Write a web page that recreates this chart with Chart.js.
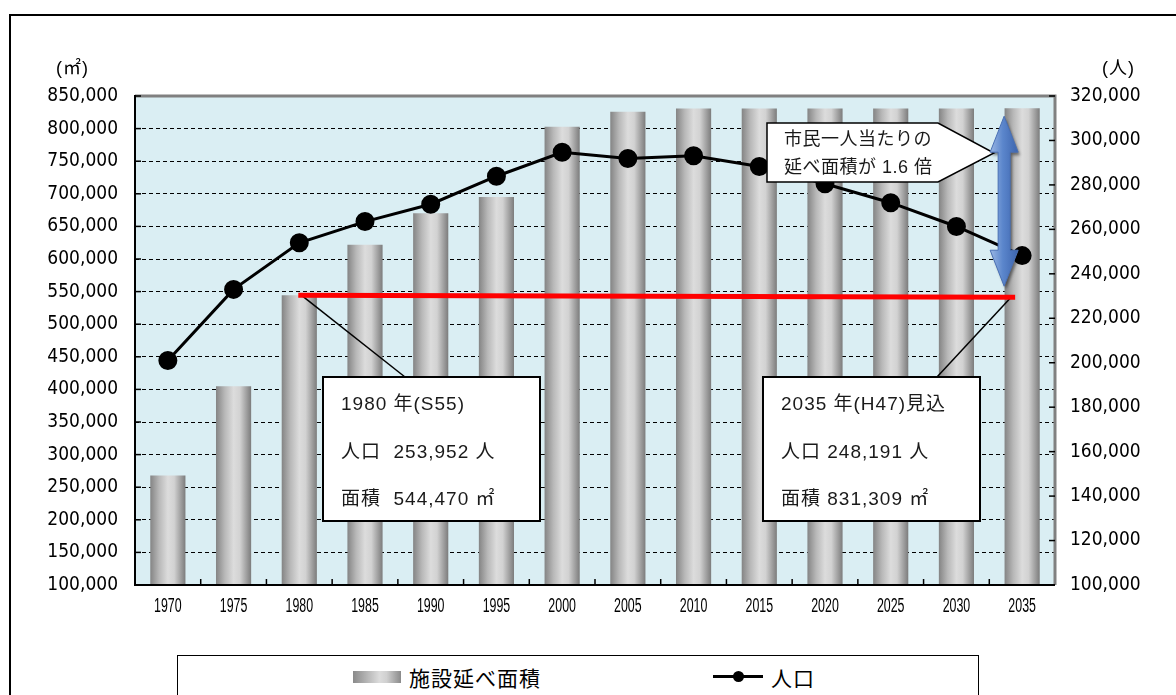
<!DOCTYPE html>
<html><head><meta charset="utf-8">
<script src="https://cdn.jsdelivr.net/npm/chart.js@4"></script>
<style>
html,body{margin:0;padding:0;background:#fff;}
#wrap{position:relative;width:1176px;height:695px;overflow:hidden;background:#fff;}
#frame{position:absolute;left:9px;top:14px;width:1300px;height:800px;border-left:2px solid #000;border-top:2px solid #000;}
#c{position:absolute;left:0;top:0;}
.ttl{position:absolute;font-family:'Liberation Sans','Noto Sans CJK JP';font-size:18px;color:#000;line-height:22px;letter-spacing:1px;}
#legend{position:absolute;left:177px;top:655px;width:800px;height:60px;border:1px solid #000;background:#fff;font-family:'Noto Sans CJK JP';font-size:21px;color:#000;}
#legend span{position:absolute;line-height:26px;top:8px;}
#sw{position:absolute;left:175px;top:15px;width:48px;height:12px;background:linear-gradient(to right,#8a8a8a,#dcdcdc 55%,#d0d0d0 70%,#8a8a8a);}
#ln{position:absolute;left:535px;top:19px;width:50px;height:3px;background:#000;}
#dot{position:absolute;left:555px;top:15px;width:11px;height:11px;border-radius:50%;background:#000;}
</style></head>
<body>
<div id="wrap">
  <div id="frame"></div>
  <canvas id="c" width="1176" height="695"></canvas>
  <div class="ttl" style="left:56px;top:57px;">(㎡)</div>
  <div class="ttl" style="left:1102px;top:57px;">(人)</div>
  <div id="legend">
    <div id="sw"></div><span style="left:231px;letter-spacing:1px;">施設延べ面積</span>
    <div id="ln"></div><div id="dot"></div><span style="left:593px;letter-spacing:1px;">人口</span>
  </div>
</div>
<script>
// ---- data ----
const years = ['1970','1975','1980','1985','1990','1995','2000','2005','2010','2015','2020','2025','2030','2035'];
const floorArea = [268000, 405000, 544470, 622000, 670000, 695000, 803000, 826000, 831000, 831000, 831000, 831000, 831000, 831309];
const population = [201000, 233000, 253952, 263500, 271300, 283900, 294700, 291900, 293100, 288300, 280500, 272000, 261300, 248191];
const areaAxis = {min: 100000, max: 850000, step: 50000};
const popAxis = {min: 100000, max: 320000, step: 20000};
const box1980 = ['1980 年(S55)', '人口  253,952 人', '面積  544,470 ㎡'];
const box2035 = ['2035 年(H47)見込', '人口 248,191 人', '面積 831,309 ㎡'];
const calloutText = ['市民一人当たりの', '延べ面積が 1.6 倍'];

const BAR_PCT = 0.535;
const fmt = v => Number(v).toLocaleString('en-US');
const tickFont = {family: "'DejaVu Sans Condensed', 'DejaVu Sans', sans-serif", size: 19};
const mixed = "'Liberation Sans', 'Noto Sans CJK JP', sans-serif";

const barGradient = (c) => {
  const chart = c.chart, xs = chart.scales && chart.scales.x;
  if (!chart.chartArea || !xs || c.dataIndex === undefined) return '#b5b5b5';
  const cx = xs.getPixelForValue(c.dataIndex);
  const w = xs.width / years.length * BAR_PCT;
  const g = chart.ctx.createLinearGradient(cx - w / 2, 0, cx + w / 2, 0);
  g.addColorStop(0, '#848484');
  g.addColorStop(0.25, '#b8b8b8');
  g.addColorStop(0.5, '#dcdcdc');
  g.addColorStop(0.68, '#d2d2d2');
  g.addColorStop(1, '#7c7c7c');
  return g;
};

const decor = {
  id: 'decor',
  beforeDraw(chart) {
    const {ctx, chartArea: a} = chart;
    ctx.save();
    ctx.fillStyle = '#daeef3';
    ctx.fillRect(a.left, a.top, a.right - a.left, a.bottom - a.top);
    ctx.restore();
  },
  afterDatasetsDraw(chart) {
    const {ctx, chartArea: a} = chart;
    const xs = chart.scales.x, ys = chart.scales.y, y1 = chart.scales.y1;
    ctx.save();
    // frame
    ctx.strokeStyle = '#808080'; ctx.lineWidth = 3;
    ctx.beginPath(); ctx.moveTo(a.left, a.top); ctx.lineTo(a.right, a.top); ctx.lineTo(a.right, a.bottom); ctx.stroke();
    ctx.strokeStyle = '#000'; ctx.lineWidth = 2;
    ctx.beginPath(); ctx.moveTo(a.left, a.top - 1); ctx.lineTo(a.left, a.bottom); ctx.lineTo(a.right, a.bottom); ctx.stroke();
    // tick marks
    ctx.lineWidth = 1.5;
    ys.ticks.forEach((t, i) => { const y = ys.getPixelForTick(i); ctx.beginPath(); ctx.moveTo(a.left, y); ctx.lineTo(a.left + 6, y); ctx.stroke(); });
    y1.ticks.forEach((t, i) => { const y = y1.getPixelForTick(i); ctx.beginPath(); ctx.moveTo(a.right - 6, y); ctx.lineTo(a.right, y); ctx.stroke(); });
    const cw = xs.width / years.length;
    for (let i = 1; i < years.length; i++) { const x = a.left + cw * i; ctx.beginPath(); ctx.moveTo(x, a.bottom - 6); ctx.lineTo(x, a.bottom); ctx.stroke(); }
    // x-axis category labels (condensed), positioned by the category scale
    ctx.fillStyle = '#000'; ctx.font = "20px 'Liberation Sans', sans-serif"; ctx.textAlign = 'center'; ctx.textBaseline = 'middle';
    xs.ticks.forEach((t, i) => {
      const x = xs.getPixelForTick(i);
      ctx.save(); ctx.translate(x, a.bottom + 21); ctx.scale(0.62, 1);
      ctx.fillText(xs.getLabelForValue(t.value), 0, 0);
      ctx.restore();
    });

    const yBase = ys.getPixelForValue(floorArea[2]);
    const x1980 = xs.getPixelForValue(2), x2035 = xs.getPixelForValue(13);
    // connectors
    ctx.strokeStyle = '#000'; ctx.lineWidth = 1.5;
    ctx.beginPath(); ctx.moveTo(x1980 + 2, yBase); ctx.lineTo(405, 377); ctx.stroke();
    ctx.beginPath(); ctx.moveTo(x2035 - 12, yBase + 3); ctx.lineTo(937, 377); ctx.stroke();
    // red line
    ctx.strokeStyle = '#ff0000'; ctx.lineWidth = 5;
    ctx.beginPath(); ctx.moveTo(x1980 - 1, yBase); ctx.lineTo(x2035 - 7, yBase + 2); ctx.stroke();
    // boxes
    const drawBox = (x, y, w, h, lines) => {
      ctx.fillStyle = '#fff'; ctx.fillRect(x, y, w, h);
      ctx.strokeStyle = '#000'; ctx.lineWidth = 2; ctx.strokeRect(x, y, w, h);
      ctx.fillStyle = '#1a1a1a'; ctx.font = '19px ' + mixed; ctx.textBaseline = 'middle'; ctx.textAlign = 'left';
      ctx.letterSpacing = '1px';
      lines.forEach((s, i) => ctx.fillText(s, x + 18, y + 28 + i * 47.5));
      ctx.letterSpacing = '0px';
    };
    drawBox(323, 377, 217, 144, box1980);
    drawBox(763, 377, 217, 144, box2035);
    // callout
    ctx.beginPath();
    ctx.moveTo(767, 123); ctx.lineTo(938, 123); ctx.lineTo(994, 153); ctx.lineTo(938, 182); ctx.lineTo(767, 182); ctx.closePath();
    ctx.fillStyle = '#fff'; ctx.fill(); ctx.strokeStyle = '#000'; ctx.lineWidth = 1.5; ctx.stroke();
    ctx.fillStyle = '#1a1a1a'; ctx.font = '18px ' + mixed; ctx.textBaseline = 'middle'; ctx.textAlign = 'left';
    ctx.letterSpacing = '0.5px';
    ctx.fillText(calloutText[0], 784, 140);
    ctx.fillText(calloutText[1], 784, 168);
    ctx.letterSpacing = '0px';
    // double arrow
    const cx = x2035 - 18, ty = ys.getPixelForValue(floorArea[13]) + 8, by = yBase - 9;
    const hw = 14, sw = 6, hh = 36;
    ctx.beginPath();
    ctx.moveTo(cx, ty); ctx.lineTo(cx + hw, ty + hh); ctx.lineTo(cx + sw, ty + hh); ctx.lineTo(cx + sw, by - hh);
    ctx.lineTo(cx + hw, by - hh); ctx.lineTo(cx, by); ctx.lineTo(cx - hw, by - hh); ctx.lineTo(cx - sw, by - hh);
    ctx.lineTo(cx - sw, ty + hh); ctx.lineTo(cx - hw, ty + hh); ctx.closePath();
    const g = ctx.createLinearGradient(cx - hw, 0, cx + hw, 0);
    g.addColorStop(0, '#9bb8e4'); g.addColorStop(0.45, '#5b86cc'); g.addColorStop(1, '#3c64ad');
    ctx.save();
    ctx.shadowColor = 'rgba(0,0,0,0.45)'; ctx.shadowOffsetX = 2; ctx.shadowOffsetY = 3; ctx.shadowBlur = 3;
    ctx.fillStyle = g; ctx.fill();
    ctx.restore();
    ctx.strokeStyle = '#4a70b4'; ctx.lineWidth = 1; ctx.stroke();
    ctx.restore();
  }
};

new Chart(document.getElementById('c'), {
  type: 'bar',
  data: {
    labels: years,
    datasets: [
      {type: 'line', label: '人口', data: population, yAxisID: 'y1', order: 0,
       borderColor: '#000', borderWidth: 3, pointRadius: 8, pointHoverRadius: 8,
       pointBackgroundColor: '#000', pointBorderColor: '#000', tension: 0, clip: false},
      {type: 'bar', label: '施設延べ面積', data: floorArea, yAxisID: 'y', order: 1,
       backgroundColor: barGradient, borderWidth: 0, barPercentage: BAR_PCT, categoryPercentage: 1.0}
    ]
  },
  options: {
    responsive: false, animation: false, devicePixelRatio: 1,
    layout: {padding: {top: 96, left: 0, right: 0, bottom: 0}},
    plugins: {legend: {display: false}, tooltip: {enabled: false}},
    scales: {
      x: {grid: {display: false}, border: {display: false},
          ticks: {display: false, autoSkip: false},
          afterFit: s => { s.height = 110; }},
      y: {position: 'left', min: areaAxis.min, max: areaAxis.max,
          ticks: {stepSize: areaAxis.step, color: '#000', padding: 17, font: tickFont, callback: v => fmt(v)},
          grid: {drawTicks: false, lineWidth: 1,
                 color: c => (c.tick && (c.tick.value === areaAxis.min || c.tick.value === areaAxis.max)) ? 'rgba(0,0,0,0)' : '#000'},
          border: {display: false, dash: [4, 3]},
          afterFit: s => { s.width = 135; }},
      y1: {position: 'right', min: popAxis.min, max: popAxis.max,
           ticks: {stepSize: popAxis.step, color: '#000', padding: 15, font: tickFont, callback: v => fmt(v)},
           grid: {display: false, drawTicks: false}, border: {display: false},
           afterFit: s => { s.width = 121; }}
    }
  },
  plugins: [decor]
});
</script>
</body></html>
